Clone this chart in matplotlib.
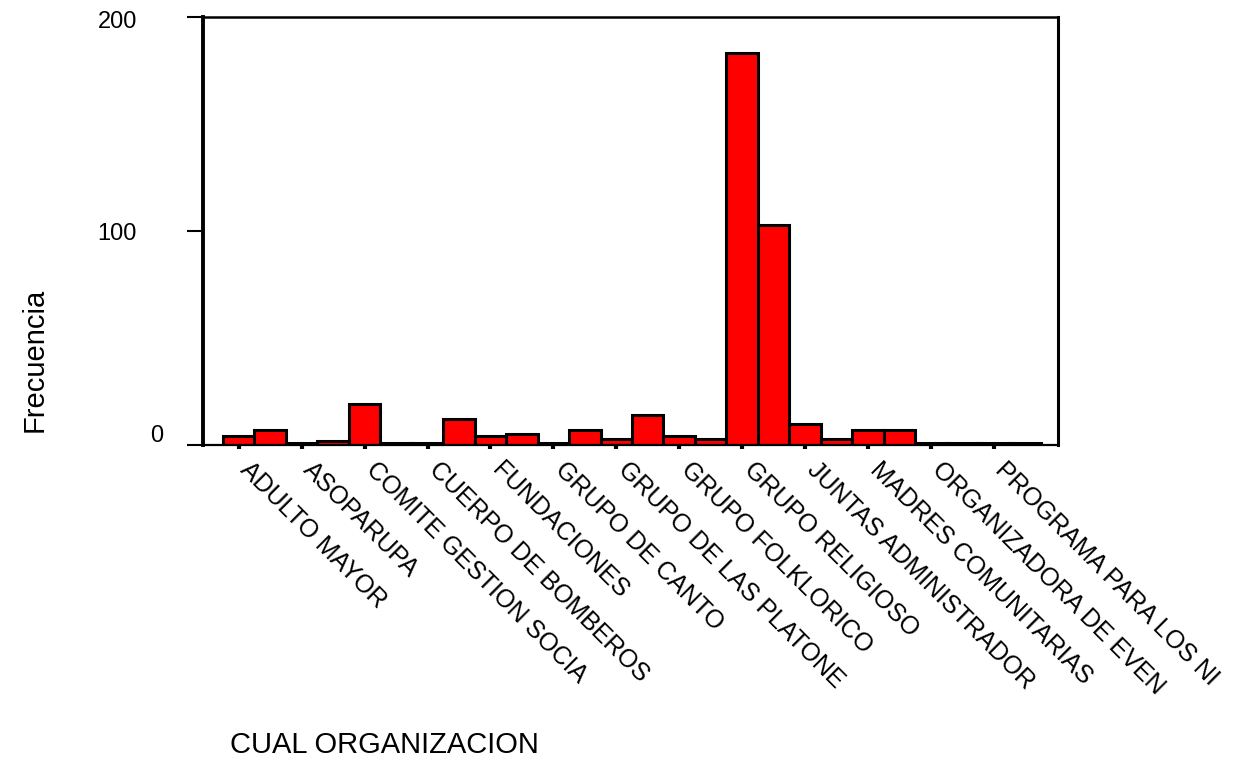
import matplotlib

matplotlib.use("Agg")
import matplotlib.pyplot as plt
import matplotlib.transforms as mtransforms
import numpy as np

plt.rcParams["font.family"] = ["Liberation Sans", "DejaVu Sans"]

# every other category carries a label on the axis (SPSS style)
labels = [
    "ADULTO MAYOR", "", "ASOPARUPA", "", "COMITE GESTION SOCIA", "",
    "CUERPO DE BOMBEROS", "", "FUNDACIONES", "", "GRUPO DE CANTO", "",
    "GRUPO DE LAS PLATONE", "", "GRUPO FOLKLORICO", "", "GRUPO RELIGIOSO", "",
    "JUNTAS ADMINISTRADOR", "", "MADRES COMUNITARIAS", "",
    "ORGANIZADORA DE EVEN", "", "PROGRAMA PARA LOS NI", "",
]
counts = [4, 7, 1, 2, 19, 1, 1, 12, 4, 5, 1, 7, 3, 14,
          4, 3, 183, 103, 10, 3, 7, 7, 1, 1, 1, 1]
yticks = [0, 100, 200]

fig = plt.figure(figsize=(12.34, 7.58), dpi=100)
ax = fig.add_axes([203 / 1234, 1 - 445 / 758, 855 / 1234, 428 / 758])

x = np.arange(len(counts))
ax.bar(x, counts, width=1.0, color="#ff0000", edgecolor="black", linewidth=2.2, zorder=2)

ax.set_xlim(-1.136, 26.04)
ax.set_ylim(0, 200)

ax.set_yticks(yticks)
ax.set_yticklabels([str(v) for v in yticks], fontsize=17)
ax.tick_params(axis="y", direction="out", length=11.5, width=1.5, pad=36)

tick_pos = [i for i, lab in enumerate(labels) if lab]
ax.set_xticks(tick_pos)
ax.set_xticklabels([labels[i] for i in tick_pos], rotation=-45, ha="left",
                   va="top", rotation_mode="anchor", fontsize=18)
ax.tick_params(axis="x", direction="out", length=3, width=3, pad=6)

# SPSS nudges: x labels start a little right of the tick, "0" sits high
shift = mtransforms.ScaledTranslation(14 / 100, 0, fig.dpi_scale_trans)
for lab in ax.get_xticklabels():
    lab.set_transform(lab.get_transform() + shift)
ylabs = ax.get_yticklabels()
ylabs[0].set_transform(ylabs[0].get_transform()
                       + mtransforms.ScaledTranslation(26 / 100, 12 / 100, fig.dpi_scale_trans))
ylabs[2].set_transform(ylabs[2].get_transform()
                       + mtransforms.ScaledTranslation(0, -3 / 100, fig.dpi_scale_trans))

ax.spines["left"].set_linewidth(2.8)
ax.spines["bottom"].set_linewidth(1.6)
ax.spines["top"].set_linewidth(1.8)
ax.spines["right"].set_linewidth(2.2)

fig.text(35 / 1234, 1 - 360 / 758, "Frecuencia", rotation=90, ha="center",
         va="center", fontsize=21)
fig.text(230 / 1234, 1 - 745 / 758, "CUAL ORGANIZACION", ha="left",
         va="center", fontsize=21)

fig.savefig("out.png", dpi=100)
